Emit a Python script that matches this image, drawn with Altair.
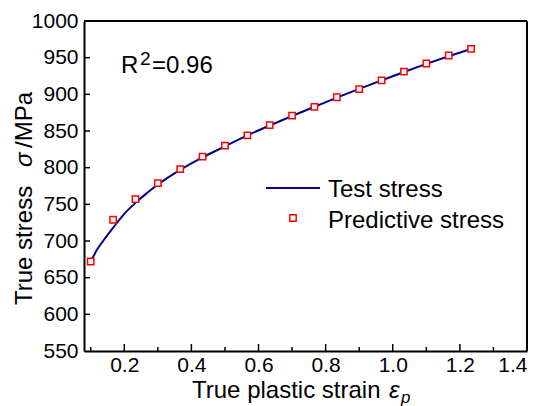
import altair as alt
import pandas as pd

# ---- data ----
strain_pred = [0.1, 0.1667, 0.2333, 0.3, 0.3667, 0.4333, 0.5, 0.5667, 0.6333,
               0.7, 0.7667, 0.8333, 0.9, 0.9667, 1.0333, 1.1, 1.1667, 1.2333]
stress_pred = [672, 729, 757, 779, 798, 815, 830, 844, 858,
               871, 883, 896, 907, 919, 931, 942, 953, 962]

strain_test = [0.1, 0.12, 0.14, 0.1667, 0.2, 0.2333, 0.2667, 0.3, 0.3667, 0.4333,
               0.5, 0.5667, 0.6333, 0.7, 0.7667, 0.8333, 0.9, 0.9667, 1.0333,
               1.1, 1.1667, 1.2333]
stress_test = [672, 689, 702, 718, 737, 752, 765, 777, 797, 814,
               829, 844, 857.5, 870.5, 883, 895.5, 907.5, 919, 930.5,
               941.5, 952, 962]

x_major = [0.2, 0.4, 0.6, 0.8, 1.0, 1.2, 1.4]
x_minor = [0.1, 0.3, 0.5, 0.7, 0.9, 1.1, 1.3]
y_major = [550, 600, 650, 700, 750, 800, 850, 900, 950, 1000]

W, H = 443, 330
FONT = "Liberation Sans"

xs = alt.Scale(domain=[0.08, 1.4], nice=False, zero=False)
ys = alt.Scale(domain=[550, 1000], nice=False, zero=False)

xaxis = alt.Axis(values=x_major, format=".1f", title=None, ticks=False,
                 labelFontSize=21, labelFont=FONT, labelColor="black",
                 labelPadding=3, domainColor="black", domainWidth=2, grid=False)
yaxis = alt.Axis(values=y_major, format="d", title=None, ticks=False,
                 labelFontSize=21, labelFont=FONT, labelColor="black",
                 labelPadding=6, domainColor="black", domainWidth=2, grid=False)

test_df = pd.DataFrame({"strain": strain_test, "stress": stress_test})
pred_df = pd.DataFrame({"strain": strain_pred, "stress": stress_pred})

line = alt.Chart(test_df).mark_line(color="#00008B", strokeWidth=2, interpolate="monotone").encode(
    x=alt.X("strain:Q", scale=xs, axis=xaxis),
    y=alt.Y("stress:Q", scale=ys, axis=yaxis),
)

pts = alt.Chart(pred_df).mark_point(shape="square", size=40, color="#FF0000", fill="white",
                                     filled=False, strokeWidth=1.5, opacity=1).encode(
    x=alt.X("strain:Q", scale=xs, axis=xaxis),
    y=alt.Y("stress:Q", scale=ys, axis=yaxis),
)

xmaj = alt.Chart(pd.DataFrame({"strain": x_major[:-1]})).mark_rule(color="black", strokeWidth=1.5).encode(
    x=alt.X("strain:Q", scale=xs, axis=xaxis), y=alt.value(H), y2=alt.value(H - 7))
xmin = alt.Chart(pd.DataFrame({"strain": x_minor})).mark_rule(color="black", strokeWidth=1.5).encode(
    x=alt.X("strain:Q", scale=xs, axis=xaxis), y=alt.value(H), y2=alt.value(H - 4))
ymaj = alt.Chart(pd.DataFrame({"stress": y_major[1:-1]})).mark_rule(color="black", strokeWidth=1.5).encode(
    y=alt.Y("stress:Q", scale=ys, axis=yaxis), x=alt.value(0), x2=alt.value(6))

# frame (top and right edges)
frame_top = alt.Chart(pd.DataFrame({"a": [0]})).mark_rule(color="black", strokeWidth=2).encode(
    x=alt.value(0), x2=alt.value(W), y=alt.value(0))
frame_right = alt.Chart(pd.DataFrame({"a": [0]})).mark_rule(color="black", strokeWidth=2).encode(
    x=alt.value(W), y=alt.value(0), y2=alt.value(H))


def txt(s, x, y, size=24, style="normal", angle=0, align="left"):
    return alt.Chart(pd.DataFrame({"t": [s]})).mark_text(
        font=FONT, fontSize=size, fontStyle=style, color="black", align=align,
        baseline="alphabetic", angle=angle).encode(
        text="t:N", x=alt.value(x), y=alt.value(y))


# legend (drawn manually)
leg_line = alt.Chart(pd.DataFrame({"a": [0]})).mark_rule(color="#00008B", strokeWidth=2).encode(
    x=alt.value(182), x2=alt.value(236), y=alt.value(167))
leg_pt = alt.Chart(pd.DataFrame({"a": [0]})).mark_point(shape="square", size=40, color="#FF0000",
                                                         fill="white", strokeWidth=1.5, opacity=1).encode(
    x=alt.value(209), y=alt.value(197))

texts = [
    txt("Test stress", 244, 176),
    txt("Predictive stress", 244, 207),
    txt("R", 37, 52),
    txt("2", 56, 44, size=19),
    txt("=0.96", 68, 52),
    txt("True stress", -52, 284, angle=270),
    txt("σ", -52, 146, style="italic", angle=270),
    txt("/MPa", -52, 127, angle=270),
    txt("True plastic strain", 108, 377),
    txt("ε", 305, 377, style="italic"),
    txt("p", 317, 382, size=17, style="italic"),
]

chart = alt.layer(line, xmaj, xmin, ymaj, frame_top, frame_right, pts, leg_line, leg_pt, *texts).properties(
    width=W, height=H,
    autosize=alt.AutoSizeParams(type="none"),
    padding={"left": 84, "top": 21, "right": 15, "bottom": 55},
).configure_view(stroke="black", strokeWidth=2).configure(background="white")

chart.save("out.html", embed_options={"renderer": "svg", "actions": False})
